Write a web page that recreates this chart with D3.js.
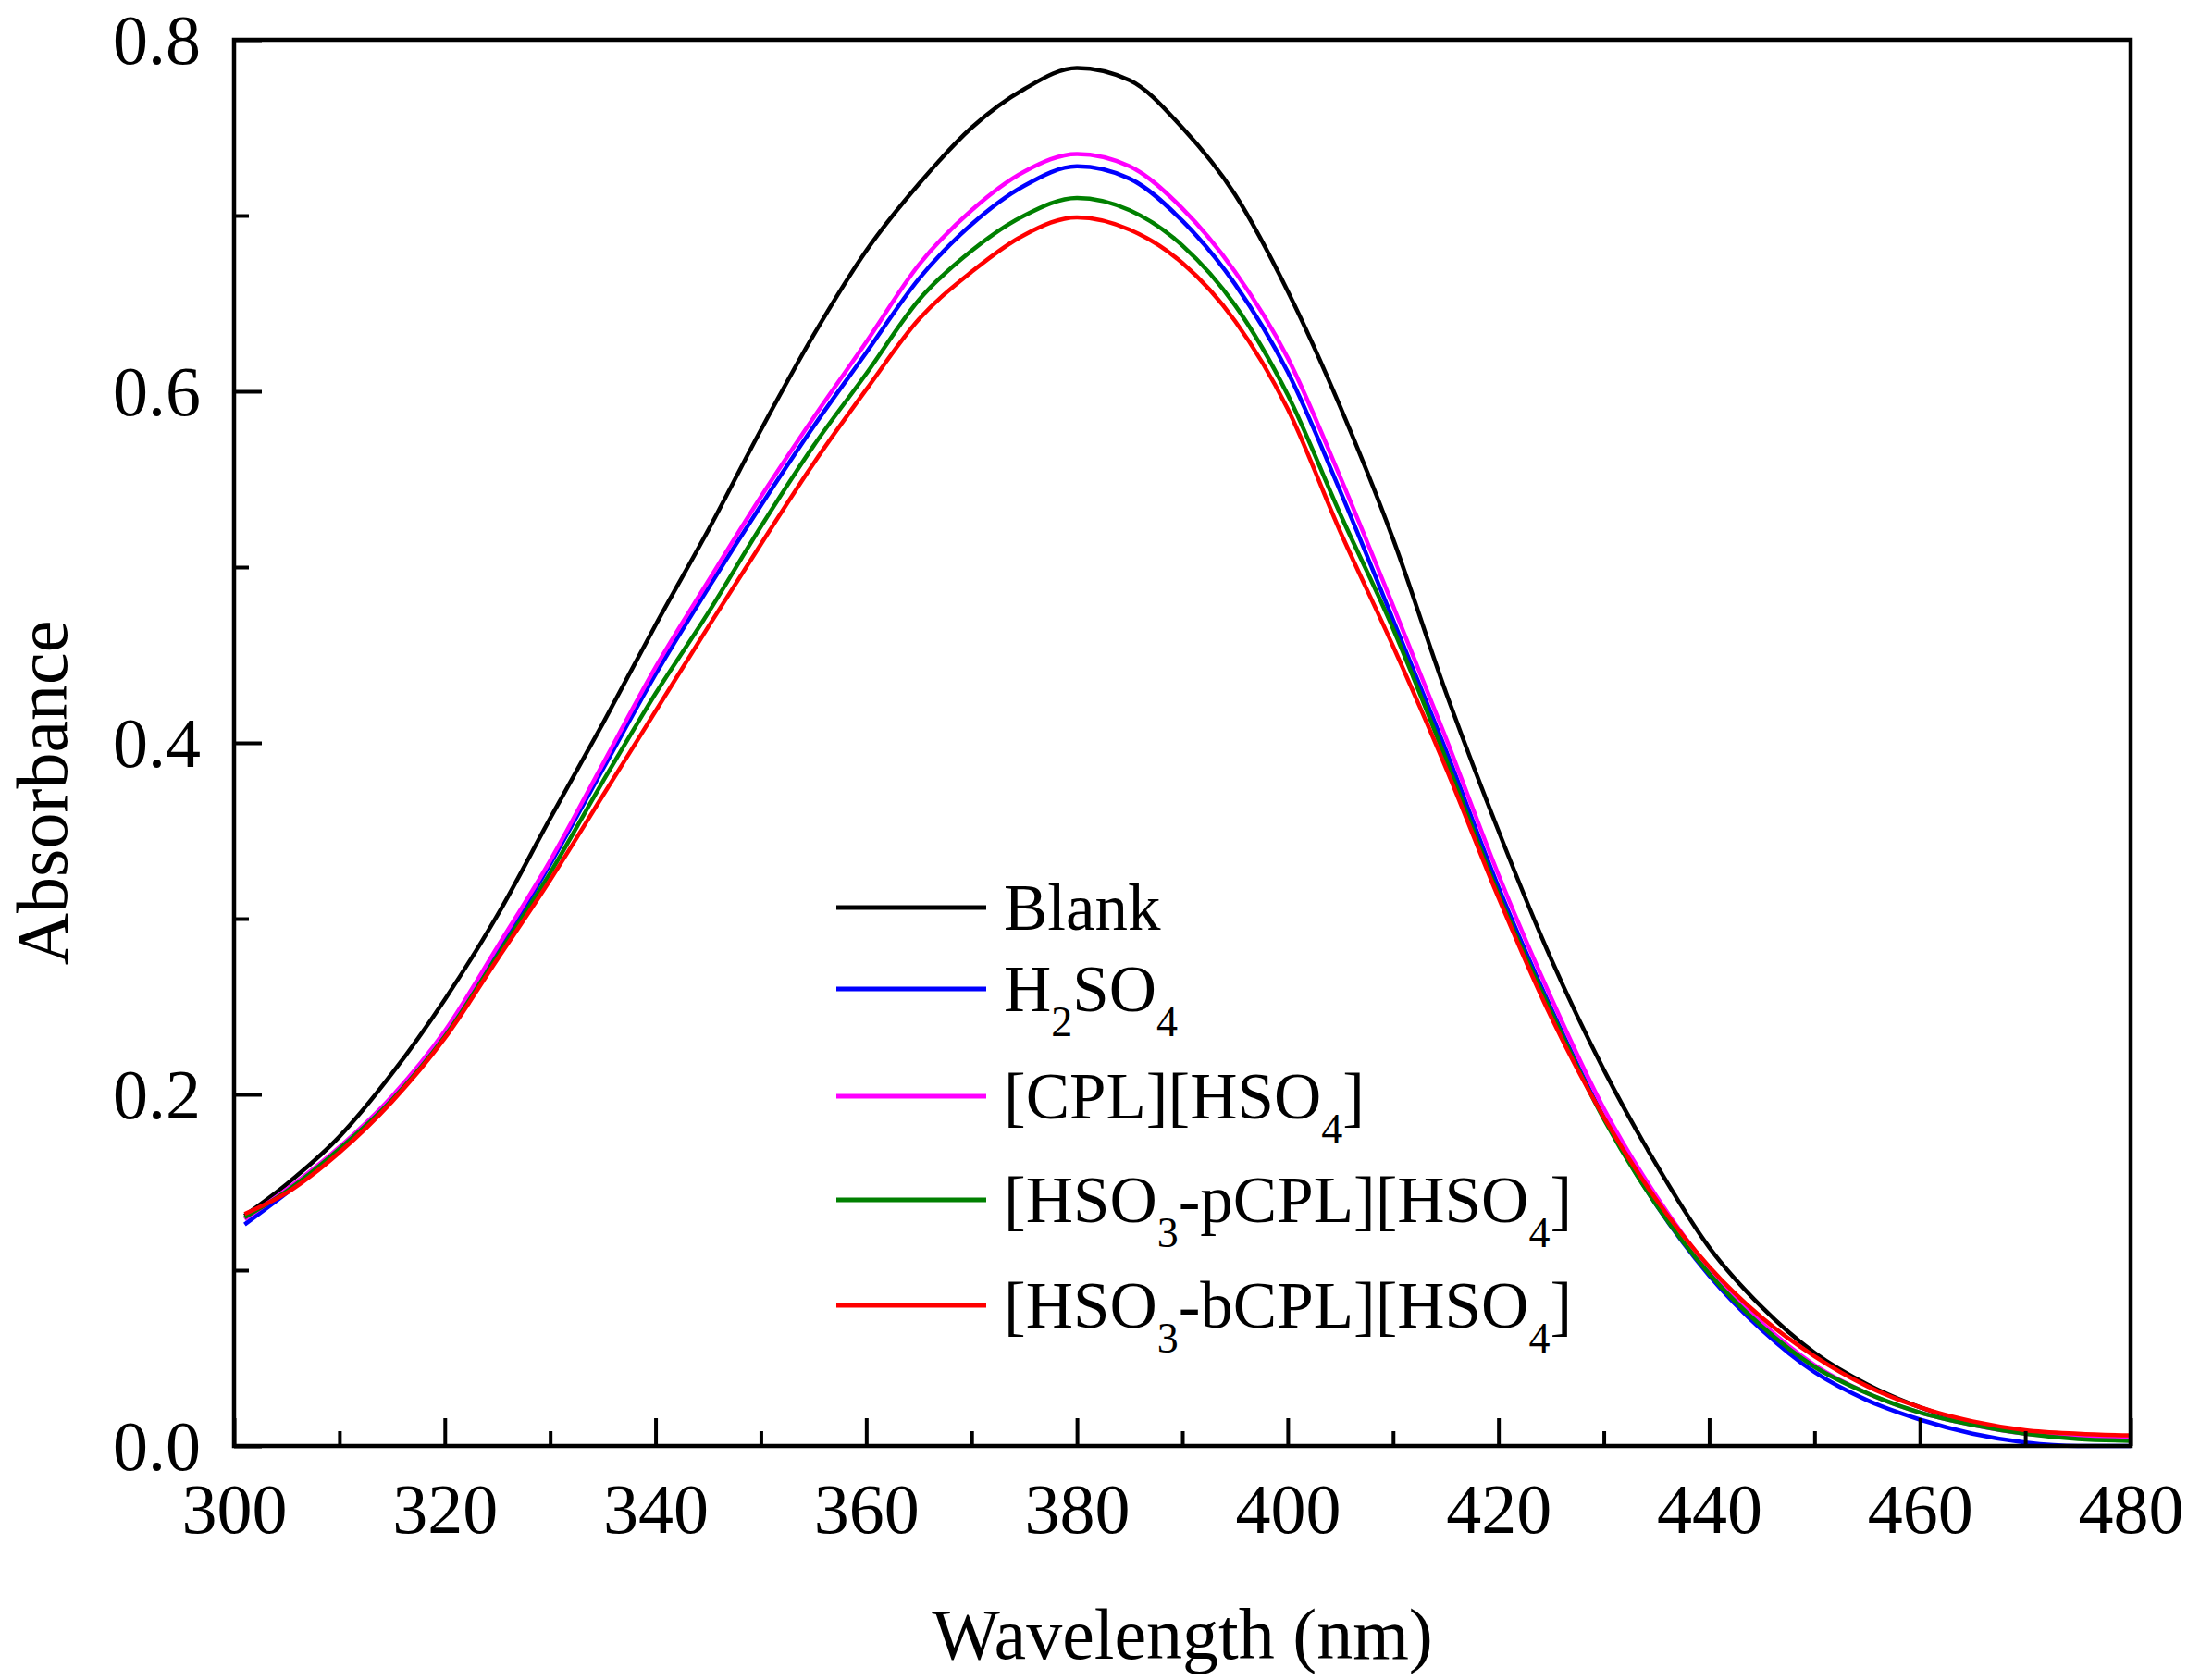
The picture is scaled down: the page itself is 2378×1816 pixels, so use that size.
<!DOCTYPE html>
<html>
<head>
<meta charset="utf-8">
<script src="https://cdn.jsdelivr.net/npm/d3@7"></script>
<style>
  body { margin: 0; background: #fff; }
  svg text { font-family: "Times New Roman", "Liberation Serif", serif; fill: #000; }
</style>
</head>
<body>
<svg id="chart" width="2378" height="1816"></svg>
<script>
// wavelength grid (nm)
var wavelengths = [301, 305, 310, 315, 320, 325, 330, 335, 340, 345, 350, 355, 360, 365, 370, 375, 380, 385, 390,
  395, 400, 405, 410, 415, 420, 425, 430, 435, 440, 445, 450, 455, 460, 465, 470, 475, 480];

var blank = [0.131, 0.149, 0.176, 0.212, 0.254, 0.302, 0.357, 0.411, 0.467, 0.521, 0.578, 0.632, 0.680, 0.718, 0.750, 0.772, 0.784, 0.777, 0.750,
  0.712, 0.657, 0.591, 0.516, 0.429, 0.350, 0.277, 0.214, 0.160, 0.113, 0.079, 0.053, 0.035, 0.022, 0.013, 0.008, 0.005, 0.003];
var h2so4 = [0.126, 0.144, 0.168, 0.197, 0.234, 0.281, 0.331, 0.385, 0.439, 0.488, 0.535, 0.580, 0.622, 0.664, 0.695, 0.717, 0.728, 0.721, 0.697,
  0.661, 0.611, 0.543, 0.470, 0.396, 0.318, 0.249, 0.187, 0.137, 0.097, 0.066, 0.042, 0.026, 0.015, 0.007, 0.002, 0.000, 0.000];
var cplHso4 = [0.129, 0.146, 0.170, 0.199, 0.236, 0.284, 0.333, 0.388, 0.443, 0.492, 0.540, 0.585, 0.628, 0.672, 0.703, 0.725, 0.735, 0.728, 0.704,
  0.668, 0.619, 0.551, 0.478, 0.403, 0.325, 0.255, 0.192, 0.142, 0.101, 0.070, 0.046, 0.030, 0.019, 0.012, 0.007, 0.005, 0.004];
var pCplHso4 = [0.130, 0.145, 0.169, 0.197, 0.233, 0.279, 0.326, 0.378, 0.428, 0.474, 0.523, 0.569, 0.610, 0.652, 0.680, 0.700, 0.710, 0.703, 0.683,
  0.649, 0.598, 0.530, 0.465, 0.391, 0.314, 0.247, 0.186, 0.137, 0.098, 0.068, 0.045, 0.030, 0.019, 0.012, 0.007, 0.004, 0.003];
var bCplHso4 = [0.132, 0.144, 0.167, 0.196, 0.232, 0.277, 0.322, 0.370, 0.418, 0.466, 0.513, 0.559, 0.601, 0.641, 0.668, 0.689, 0.699, 0.692, 0.673,
  0.640, 0.590, 0.520, 0.455, 0.386, 0.312, 0.244, 0.187, 0.140, 0.102, 0.073, 0.051, 0.034, 0.022, 0.014, 0.009, 0.007, 0.006];

var seriesNames = ['Blank', 'H2SO4', '[CPL][HSO4]', '[HSO3-pCPL][HSO4]', '[HSO3-bCPL][HSO4]'];
var seriesColors = ['#000000', '#0000ff', '#ff00ff', '#008000', '#ff0000'];
var seriesValues = [blank, h2so4, cplHso4, pCplHso4, bCplHso4];

// legend labels split into normal / subscript pieces
var legendLabels = [
  [['Blank', 0]],
  [['H', 0], ['2', 1], ['SO', 0], ['4', 1]],
  [['[CPL][HSO', 0], ['4', 1], [']', 0]],
  [['[HSO', 0], ['3', 1], ['-pCPL][HSO', 0], ['4', 1], [']', 0]],
  [['[HSO', 0], ['3', 1], ['-bCPL][HSO', 0], ['4', 1], [']', 0]]
];

var xMajorTicks = [300, 320, 340, 360, 380, 400, 420, 440, 460, 480];
var xMinorTicks = [310, 330, 350, 370, 390, 410, 430, 450, 470];
var yMajorTicks = [0.0, 0.2, 0.4, 0.6, 0.8];
var yMinorTicks = [0.1, 0.3, 0.5, 0.7];

var plot = { left: 253, right: 2303, top: 43, bottom: 1563 };

var svg = d3.select('#chart');

var x = d3.scaleLinear().domain([300, 480]).range([plot.left, plot.right]);
var y = d3.scaleLinear().domain([0, 0.8]).range([plot.bottom, plot.top]);

// curves
var line = d3.line()
  .x(function(d) { return x(d[0]); })
  .y(function(d) { return y(d[1]); })
  .curve(d3.curveMonotoneX);

var curves = svg.append('g').attr('class', 'curves');
seriesValues.forEach(function(vals, i) {
  curves.append('path')
    .datum(d3.zip(wavelengths, vals))
    .attr('fill', 'none')
    .attr('stroke', seriesColors[i])
    .attr('stroke-width', 4.5)
    .attr('stroke-linejoin', 'round')
    .attr('d', line);
});

// axes: ticks point inward
var bottomAxis = d3.axisBottom(x).tickValues(xMajorTicks).tickSize(-30).tickPadding(0).tickFormat(d3.format('d'));
var bottomMinor = d3.axisBottom(x).tickValues(xMinorTicks).tickSize(-16).tickFormat('');
var leftAxis = d3.axisLeft(y).tickValues(yMajorTicks).tickSize(-30).tickFormat(d3.format('.1f'));
var leftMinor = d3.axisLeft(y).tickValues(yMinorTicks).tickSize(-16).tickFormat('');

var styleAxis = function(g) {
  g.select('.domain').remove();
  g.selectAll('.tick line').attr('stroke', '#000').attr('stroke-width', 4);
};

var gx = svg.append('g').attr('transform', 'translate(0,' + plot.bottom + ')').call(bottomAxis).call(styleAxis);
svg.append('g').attr('transform', 'translate(0,' + plot.bottom + ')').call(bottomMinor).call(styleAxis);
gx.selectAll('.tick text')
  .attr('y', 94).attr('dy', null)
  .style('font-size', '76px')
  .style('font-family', '"Times New Roman", "Liberation Serif", serif');

var gy = svg.append('g').attr('transform', 'translate(' + plot.left + ',0)').call(leftAxis).call(styleAxis);
svg.append('g').attr('transform', 'translate(' + plot.left + ',0)').call(leftMinor).call(styleAxis);
gy.selectAll('.tick text')
  .attr('x', -36).attr('dy', 25)
  .style('font-size', '76px')
  .style('font-family', '"Times New Roman", "Liberation Serif", serif');

// frame
svg.append('rect')
  .attr('x', plot.left).attr('y', plot.top)
  .attr('width', plot.right - plot.left).attr('height', plot.bottom - plot.top)
  .attr('fill', 'none').attr('stroke', '#000').attr('stroke-width', 4.5);

// axis titles
svg.append('text')
  .attr('x', (plot.left + plot.right) / 2).attr('y', 1793)
  .attr('text-anchor', 'middle')
  .style('font-size', '78px')
  .text('Wavelength (nm)');

svg.append('text')
  .attr('transform', 'translate(72,857) rotate(-90)')
  .attr('text-anchor', 'middle')
  .style('font-size', '78px')
  .text('Absorbance');

// legend
var legendTop = 981;
var rowGap = [0, 88, 116, 112, 114];
var legend = svg.append('g').attr('class', 'legend');
var rowY = legendTop;
legendLabels.forEach(function(parts, i) {
  rowY += rowGap[i];
  legend.append('line')
    .attr('x1', 904).attr('x2', 1066)
    .attr('y1', rowY).attr('y2', rowY)
    .attr('stroke', seriesColors[i]).attr('stroke-width', 5);

  var t = legend.append('text')
    .attr('x', 1085).attr('y', rowY + 24)
    .style('font-size', '71px');
  var shifted = false;
  parts.forEach(function(p) {
    var span = t.append('tspan').text(p[0]);
    if (p[1] && !shifted) {
      span.attr('dy', 27).style('font-size', '46px');
      shifted = true;
    } else if (p[1]) {
      span.style('font-size', '46px');
    } else if (shifted) {
      span.attr('dy', -27);
      shifted = false;
    }
  });
});
</script>
</body>
</html>
